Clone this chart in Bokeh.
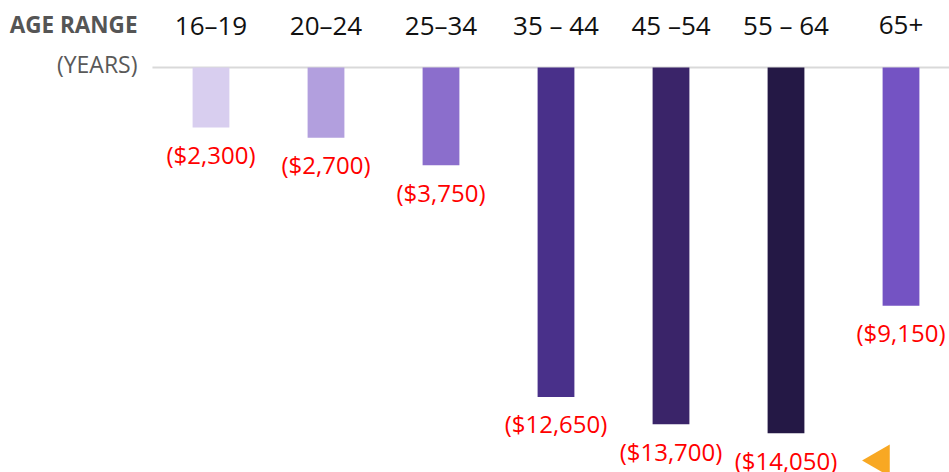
import numpy as np
from bokeh.plotting import figure
from bokeh.models import Range1d, Label, ColumnDataSource
from bokeh.core.properties import value
from bokeh.embed import file_html
from bokeh.resources import INLINE

# ---- data ----
categories = ["16–19", "20–24", "25–34", "35 – 44", "45 –54", "55 – 64", "65+"]
costs = [2300, 2700, 3750, 12650, 13700, 14050, 9150]
bar_colors = ["#D8CEEF", "#B29FDE", "#8B6ECC", "#49308A", "#3A2469", "#241845", "#7453C3"]
cost_labels = ["(${:,})".format(v) for v in costs]

W, H = 949, 472
FONT = "Open Sans"

idx = np.arange(len(categories))
src = ColumnDataSource(dict(
    x=idx, top=[0] * len(costs), bottom=[-v for v in costs],
    color=bar_colors, cat=categories, lab=cost_labels,
))

X0, X1 = -1.8304, 6.4217
p = figure(width=W, height=H, output_backend="svg", toolbar_location=None,
           x_axis_type=None, y_axis_type=None,
           x_range=Range1d(X0, X1), y_range=Range1d(-15554, 2573),
           min_border=0, min_border_left=0, min_border_right=0,
           min_border_top=0, min_border_bottom=0)
p.outline_line_color = None
p.grid.visible = False
p.background_fill_color = "white"
p.border_fill_color = "white"

# baseline
p.segment(x0=[-0.509], x1=[X1], y0=[0], y1=[0], line_color="#D9D9D9", line_width=2)

# bars
p.vbar(x="x", top="top", bottom="bottom", width=0.32, fill_color="color",
       line_color=None, source=src)

# category labels
p.text(x="x", y="top", text="cat", source=src, y_offset=-42,
       text_align="center", text_baseline="alphabetic",
       text_font=value(FONT), text_font_size="26px", text_color="#111111")

# value labels
p.text(x="x", y="bottom", text="lab", source=src, y_offset=27,
       text_align="center", text_baseline="alphabetic",
       text_font=value(FONT), text_font_size="24px", text_color="#FF0000")

# header labels
p.add_layout(Label(x=137, y=448, x_units="screen", y_units="screen", text="AGE RANGE",
                   text_align="right", text_baseline="alphabetic",
                   text_font=FONT, text_font_size="22.5px", text_font_style="bold",
                   text_color="#555555"))
p.add_layout(Label(x=137, y=409, x_units="screen", y_units="screen", text="(YEARS)",
                   text_align="right", text_baseline="alphabetic",
                   text_font=FONT, text_font_size="23px",
                   text_color="#595959"))

# pointer marker
p.scatter(x=[5.822], y=[-15093], marker="triangle", size=32, angle=np.pi / 2,
          fill_color="#F8A823", line_color=None)

open("out.html", "w").write(file_html(p, INLINE))
